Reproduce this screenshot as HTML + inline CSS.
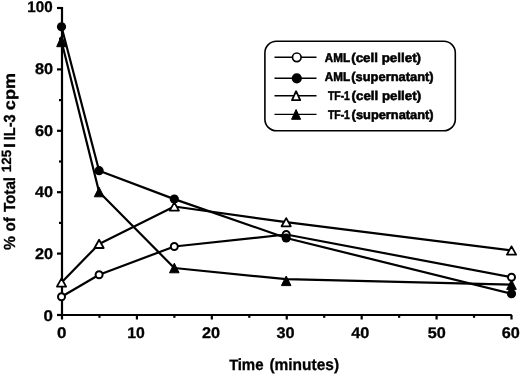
<!DOCTYPE html>
<html><head><meta charset="utf-8"><style>
html,body{margin:0;padding:0;background:#fff;width:520px;height:374px;overflow:hidden;font-family:"Liberation Sans",sans-serif}
svg{display:block;filter:grayscale(1) blur(0.3px)} text{text-rendering:geometricPrecision}
</style></head><body>
<svg width="520" height="374" viewBox="0 0 520 374">
<line x1="62.00" y1="7.00" x2="62.00" y2="316.00" stroke="#000" stroke-width="2.2"/>
<line x1="61.00" y1="315.00" x2="511.80" y2="315.00" stroke="#000" stroke-width="2.2"/>
<line x1="57.00" y1="315.00" x2="62.00" y2="315.00" stroke="#000" stroke-width="2.2"/>
<line x1="59.00" y1="284.30" x2="62.00" y2="284.30" stroke="#000" stroke-width="2.2"/>
<line x1="57.00" y1="253.60" x2="62.00" y2="253.60" stroke="#000" stroke-width="2.2"/>
<line x1="59.00" y1="222.90" x2="62.00" y2="222.90" stroke="#000" stroke-width="2.2"/>
<line x1="57.00" y1="192.20" x2="62.00" y2="192.20" stroke="#000" stroke-width="2.2"/>
<line x1="59.00" y1="161.50" x2="62.00" y2="161.50" stroke="#000" stroke-width="2.2"/>
<line x1="57.00" y1="130.80" x2="62.00" y2="130.80" stroke="#000" stroke-width="2.2"/>
<line x1="59.00" y1="100.10" x2="62.00" y2="100.10" stroke="#000" stroke-width="2.2"/>
<line x1="57.00" y1="69.40" x2="62.00" y2="69.40" stroke="#000" stroke-width="2.2"/>
<line x1="59.00" y1="38.70" x2="62.00" y2="38.70" stroke="#000" stroke-width="2.2"/>
<line x1="57.00" y1="8.00" x2="62.00" y2="8.00" stroke="#000" stroke-width="2.2"/>
<line x1="62.00" y1="315.00" x2="62.00" y2="319.50" stroke="#000" stroke-width="2.2"/>
<line x1="99.46" y1="315.00" x2="99.46" y2="317.80" stroke="#000" stroke-width="2.2"/>
<line x1="136.92" y1="315.00" x2="136.92" y2="319.50" stroke="#000" stroke-width="2.2"/>
<line x1="174.38" y1="315.00" x2="174.38" y2="317.80" stroke="#000" stroke-width="2.2"/>
<line x1="211.83" y1="315.00" x2="211.83" y2="319.50" stroke="#000" stroke-width="2.2"/>
<line x1="249.29" y1="315.00" x2="249.29" y2="317.80" stroke="#000" stroke-width="2.2"/>
<line x1="286.75" y1="315.00" x2="286.75" y2="319.50" stroke="#000" stroke-width="2.2"/>
<line x1="324.21" y1="315.00" x2="324.21" y2="317.80" stroke="#000" stroke-width="2.2"/>
<line x1="361.67" y1="315.00" x2="361.67" y2="319.50" stroke="#000" stroke-width="2.2"/>
<line x1="399.13" y1="315.00" x2="399.13" y2="317.80" stroke="#000" stroke-width="2.2"/>
<line x1="436.58" y1="315.00" x2="436.58" y2="319.50" stroke="#000" stroke-width="2.2"/>
<line x1="474.04" y1="315.00" x2="474.04" y2="317.80" stroke="#000" stroke-width="2.2"/>
<line x1="511.50" y1="315.00" x2="511.50" y2="319.50" stroke="#000" stroke-width="2.2"/>
<polyline points="61.50,296.70 99.10,274.70 174.30,246.50 286.20,234.50 511.50,277.30" fill="none" stroke="#000" stroke-width="2.2" stroke-linejoin="round"/>
<polyline points="61.50,26.80 99.10,170.70 174.30,199.10 286.20,238.00 511.50,293.70" fill="none" stroke="#000" stroke-width="2.2" stroke-linejoin="round"/>
<polyline points="61.50,282.50 99.10,243.90 174.30,206.50 286.20,222.20 511.50,250.50" fill="none" stroke="#000" stroke-width="2.2" stroke-linejoin="round"/>
<polyline points="61.50,41.20 99.10,192.00 174.30,268.00 286.20,279.20 511.50,284.60" fill="none" stroke="#000" stroke-width="2.2" stroke-linejoin="round"/>
<polygon points="61.50,35.70 66.30,46.70 56.70,46.70" fill="#000" stroke="#000" stroke-width="1" stroke-linejoin="round"/>
<polygon points="99.10,187.20 103.90,196.80 94.30,196.80" fill="#000" stroke="#000" stroke-width="1" stroke-linejoin="round"/>
<polygon points="174.30,263.20 179.10,272.80 169.50,272.80" fill="#000" stroke="#000" stroke-width="1" stroke-linejoin="round"/>
<polygon points="286.20,276.00 291.00,285.60 281.40,285.60" fill="#000" stroke="#000" stroke-width="1" stroke-linejoin="round"/>
<polygon points="511.50,279.80 516.30,289.40 506.70,289.40" fill="#000" stroke="#000" stroke-width="1" stroke-linejoin="round"/>
<polygon points="61.50,278.40 66.10,286.60 56.90,286.60" fill="#fff" stroke="#000" stroke-width="1.8" stroke-linejoin="round"/>
<polygon points="99.10,239.80 103.70,248.00 94.50,248.00" fill="#fff" stroke="#000" stroke-width="1.8" stroke-linejoin="round"/>
<polygon points="174.30,202.40 178.90,210.60 169.70,210.60" fill="#fff" stroke="#000" stroke-width="1.8" stroke-linejoin="round"/>
<polygon points="286.20,218.10 290.80,226.30 281.60,226.30" fill="#fff" stroke="#000" stroke-width="1.8" stroke-linejoin="round"/>
<polygon points="511.50,246.40 516.10,254.60 506.90,254.60" fill="#fff" stroke="#000" stroke-width="1.8" stroke-linejoin="round"/>
<circle cx="61.50" cy="296.70" r="3.50" fill="#fff" stroke="#000" stroke-width="2.0"/>
<circle cx="99.10" cy="274.70" r="3.50" fill="#fff" stroke="#000" stroke-width="2.0"/>
<circle cx="174.30" cy="246.50" r="3.50" fill="#fff" stroke="#000" stroke-width="2.0"/>
<circle cx="286.20" cy="234.50" r="3.50" fill="#fff" stroke="#000" stroke-width="2.0"/>
<circle cx="511.50" cy="277.30" r="3.50" fill="#fff" stroke="#000" stroke-width="2.0"/>
<circle cx="61.50" cy="26.80" r="4.60" fill="#000"/>
<circle cx="99.10" cy="170.70" r="4.60" fill="#000"/>
<circle cx="174.30" cy="199.10" r="4.60" fill="#000"/>
<circle cx="286.20" cy="238.00" r="4.60" fill="#000"/>
<circle cx="511.50" cy="293.70" r="4.60" fill="#000"/>
<text x="53.0" y="320.90" font-family="'Liberation Sans', sans-serif" font-weight="bold" font-size="15.4" text-anchor="end" textLength="9.4" lengthAdjust="spacingAndGlyphs" stroke="#000" stroke-width="0.3">0</text>
<text x="53.0" y="259.14" font-family="'Liberation Sans', sans-serif" font-weight="bold" font-size="15.4" text-anchor="end" textLength="18.1" lengthAdjust="spacingAndGlyphs" stroke="#000" stroke-width="0.3">20</text>
<text x="53.0" y="197.38" font-family="'Liberation Sans', sans-serif" font-weight="bold" font-size="15.4" text-anchor="end" textLength="18.1" lengthAdjust="spacingAndGlyphs" stroke="#000" stroke-width="0.3">40</text>
<text x="53.0" y="135.62" font-family="'Liberation Sans', sans-serif" font-weight="bold" font-size="15.4" text-anchor="end" textLength="18.1" lengthAdjust="spacingAndGlyphs" stroke="#000" stroke-width="0.3">60</text>
<text x="53.0" y="73.86" font-family="'Liberation Sans', sans-serif" font-weight="bold" font-size="15.4" text-anchor="end" textLength="18.1" lengthAdjust="spacingAndGlyphs" stroke="#000" stroke-width="0.3">80</text>
<text x="52.6" y="12.10" font-family="'Liberation Sans', sans-serif" font-weight="bold" font-size="15.4" text-anchor="end" textLength="25.3" lengthAdjust="spacingAndGlyphs" stroke="#000" stroke-width="0.3">100</text>
<text x="61.80" y="337.60" font-family="'Liberation Sans', sans-serif" font-weight="bold" font-size="15.4" text-anchor="middle" textLength="9.4" lengthAdjust="spacingAndGlyphs" stroke="#000" stroke-width="0.3">0</text>
<text x="136.00" y="337.60" font-family="'Liberation Sans', sans-serif" font-weight="bold" font-size="15.4" text-anchor="middle" textLength="17.6" lengthAdjust="spacingAndGlyphs" stroke="#000" stroke-width="0.3">10</text>
<text x="211.00" y="337.60" font-family="'Liberation Sans', sans-serif" font-weight="bold" font-size="15.4" text-anchor="middle" textLength="18.1" lengthAdjust="spacingAndGlyphs" stroke="#000" stroke-width="0.3">20</text>
<text x="285.50" y="337.60" font-family="'Liberation Sans', sans-serif" font-weight="bold" font-size="15.4" text-anchor="middle" textLength="18.1" lengthAdjust="spacingAndGlyphs" stroke="#000" stroke-width="0.3">30</text>
<text x="360.20" y="337.60" font-family="'Liberation Sans', sans-serif" font-weight="bold" font-size="15.4" text-anchor="middle" textLength="18.1" lengthAdjust="spacingAndGlyphs" stroke="#000" stroke-width="0.3">40</text>
<text x="436.70" y="337.60" font-family="'Liberation Sans', sans-serif" font-weight="bold" font-size="15.4" text-anchor="middle" textLength="18.1" lengthAdjust="spacingAndGlyphs" stroke="#000" stroke-width="0.3">50</text>
<text x="510.70" y="337.60" font-family="'Liberation Sans', sans-serif" font-weight="bold" font-size="15.4" text-anchor="middle" textLength="18.1" lengthAdjust="spacingAndGlyphs" stroke="#000" stroke-width="0.3">60</text>
<text x="229.2" y="370.2" font-family="'Liberation Sans', sans-serif" font-weight="bold" font-size="14.8" stroke="#000" stroke-width="0.3">T</text>
<text x="237.7" y="370.2" font-family="'Liberation Sans', sans-serif" font-weight="bold" font-size="16.2" textLength="25.86" lengthAdjust="spacingAndGlyphs" stroke="#000" stroke-width="0.3">ime</text>
<text x="269.38" y="370.2" font-family="'Liberation Sans', sans-serif" font-weight="bold" font-size="16.2" textLength="69.74" lengthAdjust="spacingAndGlyphs" stroke="#000" stroke-width="0.3">(minutes)</text>
<g transform="translate(15.4,0) rotate(-90)">
<text x="-250.04" y="0" font-family="'Liberation Sans', sans-serif" font-weight="bold" font-size="16" textLength="13.9" lengthAdjust="spacingAndGlyphs" stroke="#000" stroke-width="0.3">%</text>
<text x="-231.44" y="0" font-family="'Liberation Sans', sans-serif" font-weight="bold" font-size="16" textLength="14.26" lengthAdjust="spacingAndGlyphs" stroke="#000" stroke-width="0.3">of</text>
<text x="-212.12" y="0" font-family="'Liberation Sans', sans-serif" font-weight="bold" font-size="16" textLength="35.21" lengthAdjust="spacingAndGlyphs" stroke="#000" stroke-width="0.3">Total</text>
<text x="-172.3" y="-4.3" font-family="'Liberation Sans', sans-serif" font-weight="bold" font-size="13.4" textLength="22.42" lengthAdjust="spacingAndGlyphs" stroke="#000" stroke-width="0.3">125</text>
<text x="-147.96" y="0" font-family="'Liberation Sans', sans-serif" font-weight="bold" font-size="16" textLength="5.01" lengthAdjust="spacingAndGlyphs" stroke="#000" stroke-width="0.3">I</text>
<text x="-140.22" y="0" font-family="'Liberation Sans', sans-serif" font-weight="bold" font-size="16" textLength="25.79" lengthAdjust="spacingAndGlyphs" stroke="#000" stroke-width="0.3">IL-3</text>
<text x="-110.16" y="0" font-family="'Liberation Sans', sans-serif" font-weight="bold" font-size="16" textLength="37.12" lengthAdjust="spacingAndGlyphs" stroke="#000" stroke-width="0.3">cpm</text>
</g>
<rect x="264.9" y="41.3" width="190.4" height="89.4" rx="11.5" ry="11.5" fill="none" stroke="#000" stroke-width="1.6"/>
<line x1="274.50" y1="57.30" x2="316.50" y2="57.30" stroke="#000" stroke-width="1.4"/>
<circle cx="296.80" cy="57.30" r="4.30" fill="#fff" stroke="#000" stroke-width="1.7"/>
<text x="324.78" y="61.60" font-family="'Liberation Sans', sans-serif" font-weight="bold" font-size="12.6" textLength="25.3" lengthAdjust="spacingAndGlyphs" stroke="#000" stroke-width="0.55">AML</text>
<text x="351.21" y="61.60" font-family="'Liberation Sans', sans-serif" font-weight="bold" font-size="12.6" textLength="69.88" lengthAdjust="spacingAndGlyphs" stroke="#000" stroke-width="0.55">(cell pellet)</text>
<line x1="274.50" y1="78.30" x2="316.50" y2="78.30" stroke="#000" stroke-width="1.4"/>
<circle cx="296.80" cy="78.30" r="5.10" fill="#000"/>
<text x="324.78" y="81.30" font-family="'Liberation Sans', sans-serif" font-weight="bold" font-size="12.6" textLength="25.3" lengthAdjust="spacingAndGlyphs" stroke="#000" stroke-width="0.55">AML</text>
<text x="351.23" y="81.30" font-family="'Liberation Sans', sans-serif" font-weight="bold" font-size="12.6" textLength="82.44" lengthAdjust="spacingAndGlyphs" stroke="#000" stroke-width="0.55">(supernatant)</text>
<line x1="274.50" y1="95.70" x2="316.50" y2="95.70" stroke="#000" stroke-width="1.4"/>
<polygon points="296.10,91.20 300.20,100.20 292.00,100.20" fill="#fff" stroke="#000" stroke-width="1.8" stroke-linejoin="round"/>
<text x="327.96" y="100.40" font-family="'Liberation Sans', sans-serif" font-weight="bold" font-size="12.6" textLength="21.96" lengthAdjust="spacingAndGlyphs" stroke="#000" stroke-width="0.55">TF-1</text>
<text x="351.61" y="100.40" font-family="'Liberation Sans', sans-serif" font-weight="bold" font-size="12.6" textLength="69.47" lengthAdjust="spacingAndGlyphs" stroke="#000" stroke-width="0.55">(cell pellet)</text>
<line x1="274.50" y1="114.40" x2="316.50" y2="114.40" stroke="#000" stroke-width="1.4"/>
<polygon points="296.10,109.50 300.60,119.30 291.60,119.30" fill="#000" stroke="#000" stroke-width="1" stroke-linejoin="round"/>
<text x="327.96" y="118.50" font-family="'Liberation Sans', sans-serif" font-weight="bold" font-size="12.6" textLength="21.96" lengthAdjust="spacingAndGlyphs" stroke="#000" stroke-width="0.55">TF-1</text>
<text x="351.64" y="118.50" font-family="'Liberation Sans', sans-serif" font-weight="bold" font-size="12.6" textLength="82.03" lengthAdjust="spacingAndGlyphs" stroke="#000" stroke-width="0.55">(supernatant)</text>
</svg>
</body></html>
